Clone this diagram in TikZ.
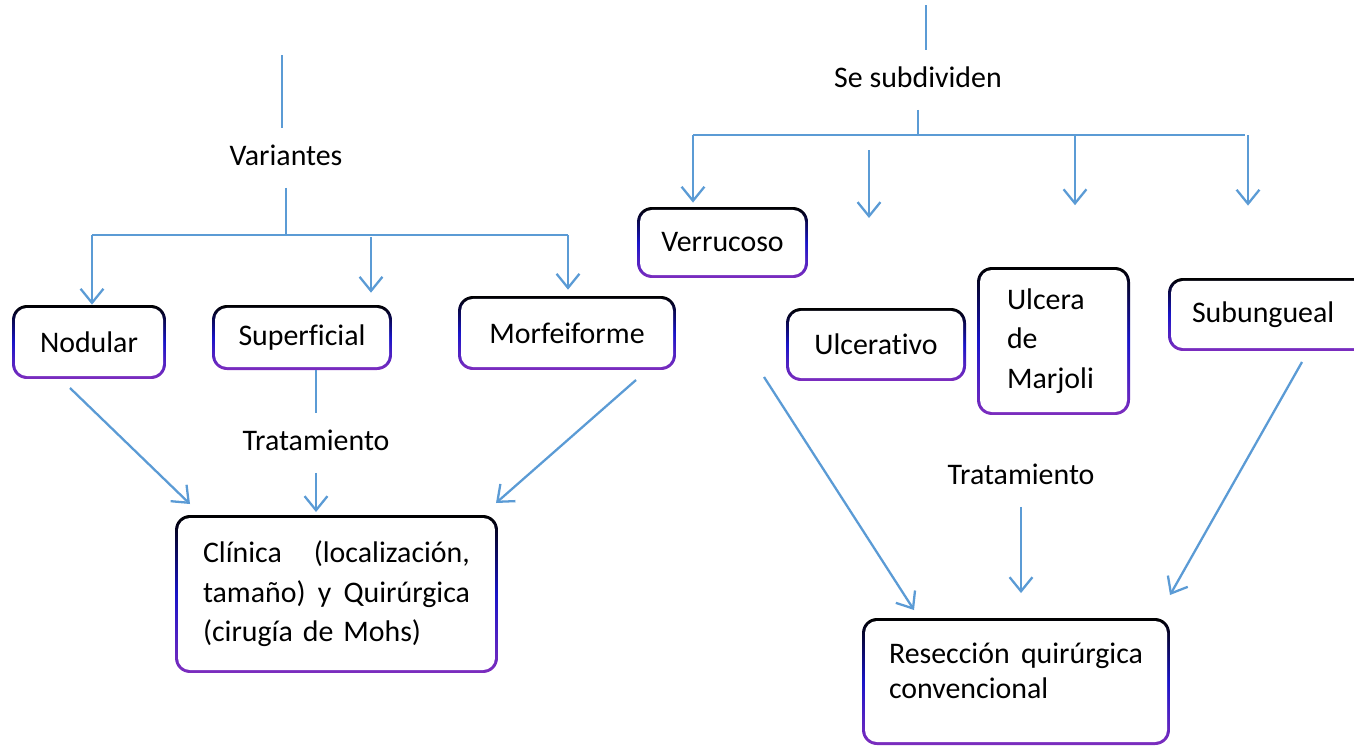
\documentclass[tikz,border=0pt]{standalone}
\usepackage{fontspec}
\setmainfont{Carlito}[Ligatures=NoCommon]
\usetikzlibrary{arrows.meta}

\definecolor{azul}{HTML}{5B9BD5}
\definecolor{azulB}{RGB}{25,20,200}
\definecolor{morado}{RGB}{125,45,190}

\tikzset{
	caja/.style={rounded corners=8.5pt, inner sep=0pt, font=\fontsize{17}{22.5}\selectfont,
		path picture={
			\shade[top color=black, bottom color=morado, middle color=azulB] (path picture bounding box.south west) rectangle (path picture bounding box.north east);
			\fill[white, rounded corners=6.8pt] ([shift={(1.7pt,1.7pt)}]path picture bounding box.south west) rectangle ([shift={(-1.7pt,-1.7pt)}]path picture bounding box.north east);
		}},
	rotulo/.style={inner sep=9pt, text height=12pt, text depth=3.5pt, font=\fontsize{17}{22}\selectfont},
	linea/.style={draw=azul, line width=1.3pt},
	flecha/.style={linea, -{Straight Barb[length=8pt, width=13pt]}},
}

\begin{document}
\begin{tikzpicture}[x=0.02cm, y=-0.02cm]
\useasboundingbox (0,0) rectangle (1354,747);

% Draws the boxes of the left tree
\node[caja, minimum width=3.08cm, minimum height=1.48cm] (Nodular) at (89,342) {Nodular};
\node[caja, minimum width=3.6cm, minimum height=1.3cm] (Superficial) at (302,337.5) {Superficial};
\node[caja, minimum width=4.36cm, minimum height=1.48cm] (Morfeiforme) at (567,333) {Morfeiforme};
\node[caja, minimum width=6.46cm, minimum height=3.16cm, text width=5.34cm, align=left] (Clinica) at (336.5,594)
	{Clínica\hfill(localización,\\tamaño)\hfill y\hfill Quirúrgica\\(cirugía de Mohs)};

% Draws the boxes of the right tree
\node[caja, minimum width=3.42cm, minimum height=1.42cm] (Verrucoso) at (722.5,242.5) {Verrucoso};
\node[caja, minimum width=3.6cm, minimum height=1.46cm] (Ulcerativo) at (876,344.5) {Ulcerativo};
\node[caja, minimum width=3.06cm, minimum height=2.96cm, text width=1.86cm, align=left] (Marjoli) at (1053.5,341) {Ulcera\\de\\Marjoli};
\node[caja, minimum width=4.24cm, minimum height=1.46cm, text width=3.28cm, align=left] (Subungueal) at (1274,314.5) {Subungueal};
\node[caja, minimum width=6.16cm, minimum height=2.54cm, text width=5.08cm, align=left, font=\fontsize{17}{20}\selectfont] (Reseccion) at (1016,681.5)
	{Resección\hfill quirúrgica\\convencional\rule[-12pt]{0pt}{0pt}};

% Writes out the labels on the lines
\node[rotulo] (Variantes) at (286,158) {Variantes};
\node[rotulo] (TratIzq) at (316,443) {Tratamiento};
\node[rotulo] (SeSub) at (918,80) {Se subdividen};
\node[rotulo] (TratDer) at (1021,477) {Tratamiento};

% Left tree: Variantes and its branches
\coordinate (vtop) at (282,55);
\coordinate (izq) at (92,235);
\coordinate (der) at (568,235);
\coordinate (sup) at (371,237);
\draw[linea, line width=0.8pt] (vtop) -- (vtop |- Variantes.north);
\draw[linea] (Variantes.south) -- (Variantes.south |- izq);
\draw[linea] (izq) -- (der);
\draw[flecha] (izq) -- (izq |- Nodular.north);
\draw[flecha, shorten >=6.8pt] (sup) -- (sup |- Superficial.north);
\draw[flecha, shorten >=3.4pt] (der) -- (der |- Morfeiforme.north);

% Left tree: Tratamiento
\draw[linea] (Superficial.south -| TratIzq) -- (TratIzq.north);
\draw[flecha, shorten >=1.5pt] (TratIzq.south) -- (TratIzq.south |- Clinica.north);
\coordinate (d1a) at (70,388);
\coordinate (d1b) at (190,504);
\coordinate (d2a) at (636,380);
\coordinate (d2b) at (496,503);
\draw[flecha] (d1a) -- (d1b);
\draw[flecha] (d2a) -- (d2b);

% Right tree: Se subdividen and its branches
\coordinate (dtop) at (926,5);
\coordinate (r1) at (693,135);
\coordinate (r2) at (869,150);
\coordinate (r2b) at (869,218);
\coordinate (r3) at (1075,135);
\coordinate (r4) at (1245,135);
\coordinate (r5) at (1248,135);
\draw[linea, line width=0.8pt] (dtop) -- (dtop |- SeSub.north);
\draw[linea] (SeSub.south) -- (SeSub.south |- r1);
\draw[linea] (r1) -- (r4);
\draw[flecha, shorten >=2.3pt] (r1) -- (r1 |- Verrucoso.north);
\draw[flecha] (r2) -- (r2b);
\draw[flecha, shorten >=35pt] (r3) -- (r3 |- Marjoli.north);
\draw[flecha, shorten >=41pt] (r5) -- (r5 |- Subungueal.north);

% Right tree: Tratamiento
\draw[flecha, shorten >=14pt] (TratDer.south) -- (TratDer.south |- Reseccion.north);
\coordinate (d3a) at (764,377);
\coordinate (d3b) at (914,610);
\coordinate (d4a) at (1302,362);
\coordinate (d4b) at (1170,595);
\draw[flecha] (d3a) -- (d3b);
\draw[flecha] (d4a) -- (d4b);

\end{tikzpicture}
\end{document}
